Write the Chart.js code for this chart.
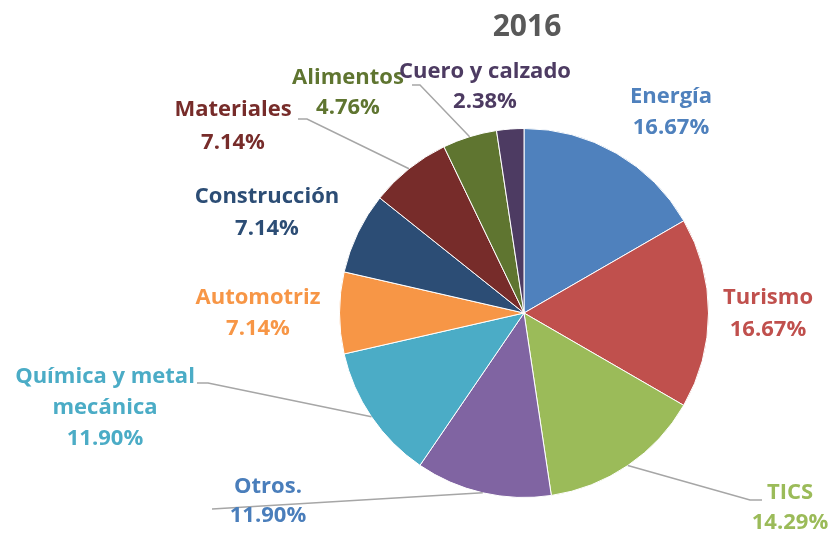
<!DOCTYPE html>
<html><head><meta charset="utf-8">
<script src="https://cdn.jsdelivr.net/npm/chart.js@4.4.0/dist/chart.umd.min.js"></script>
<style>html,body{margin:0;padding:0;background:#fff}#wrap{width:834px;height:537px}</style>
</head><body><div id="wrap"><canvas id="c" width="834" height="537"></canvas></div>
<script>
const title = '2016';
const categories = ['Energía','Turismo','TICS','Otros.','Química y metal mecánica','Automotriz','Construcción','Materiales','Alimentos','Cuero y calzado'];
const values = [16.67,16.67,14.29,11.90,11.90,7.14,7.14,7.14,4.76,2.38];
const valueLabels = ['16.67%','16.67%','14.29%','11.90%','11.90%','7.14%','7.14%','7.14%','4.76%','2.38%'];
const sliceColors = ['#4f81bd','#c0504d','#9bbb59','#8064a2','#4bacc6','#f79646','#2c4d75','#772c2a','#5f7530','#4d3b62'];
const labelColors = ['#4f81bd','#c0504d','#9bbb59','#4a7ebb','#4bacc6','#f79646','#2c4d75','#772c2a','#5f7530','#4d3b62'];

// label layout relative to the pie centre (text lines, first-line centre, line gap, leader elbow/end)
const labelLayout = [
  {lines:['Energía'], dx:147, dy:-216, gap:31},
  {lines:['Turismo'], dx:244, dy:-15, gap:32},
  {lines:['TICS'], dx:266, dy:180, gap:30, leader:[[226,187],[238,187]]},
  {lines:['Otros.'], dx:-256, dy:174, gap:29, leader:[[-312,196]]},
  {lines:['Química y metal','mecánica'], dx:-419, dy:64, gap:31, leader:[[-316,70],[-327,70]]},
  {lines:['Automotriz'], dx:-266, dy:-15, gap:31},
  {lines:['Construcción'], dx:-257, dy:-116, gap:32},
  {lines:['Materiales'], dx:-291, dy:-203, gap:33, leader:[[-217,-194],[-226,-194]]},
  {lines:['Alimentos'], dx:-176, dy:-235, gap:30, leader:[[-104,-228],[-112,-228]]},
  {lines:['Cuero y calzado'], dx:-39, dy:-241, gap:30}
];

const FONT = '"Open Sans", sans-serif';

const labelPlugin = {
  id:'labels',
  afterDatasetsDraw(chart){
    const ctx = chart.ctx;
    const meta = chart.getDatasetMeta(0);
    ctx.save();
    ctx.fillStyle = '#595959';
    ctx.font = 'bold 30px ' + FONT;
    ctx.textAlign = 'center';
    ctx.textBaseline = 'middle';
    ctx.fillText(title, 527, 27);
    meta.data.forEach((arc, i) => {
      const L = labelLayout[i];
      const cx = arc.x, cy = arc.y;
      if (L.leader) {
        const mid = (arc.startAngle + arc.endAngle) / 2;
        ctx.strokeStyle = '#a6a6a6';
        ctx.lineWidth = 1.5;
        ctx.beginPath();
        ctx.moveTo(cx + arc.outerRadius * Math.cos(mid), cy + arc.outerRadius * Math.sin(mid));
        L.leader.forEach(p => ctx.lineTo(cx + p[0], cy + p[1]));
        ctx.stroke();
      }
      ctx.fillStyle = labelColors[i];
      ctx.font = 'bold 22px ' + FONT;
      const lines = L.lines.concat([valueLabels[i]]);
      lines.forEach((t, k) => ctx.fillText(t, cx + L.dx, cy + L.dy + k * L.gap));
    });
    ctx.restore();
  }
};

new Chart(document.getElementById('c'), {
  type:'pie',
  data:{labels:categories, datasets:[{data:values, backgroundColor:sliceColors, borderColor:'#ffffff', borderWidth:1}]},
  options:{
    responsive:false, animation:false,
    layout:{padding:{left:339, right:125, top:128, bottom:39}},
    plugins:{legend:{display:false}, tooltip:{enabled:false}, title:{display:false}}
  },
  plugins:[labelPlugin]
});
</script></body></html>
